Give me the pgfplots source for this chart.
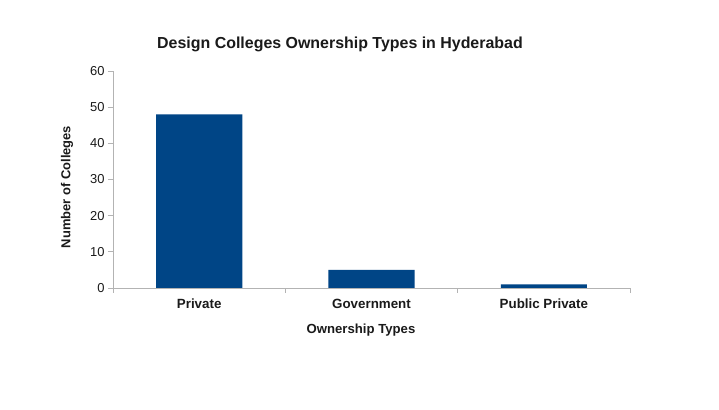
\documentclass[border=0pt]{standalone}
\usepackage{pgfplots}
\pgfplotsset{compat=1.18}
\usepackage{fontspec}
\setmainfont{Liberation Sans}
\definecolor{barblue}{HTML}{004586}
\definecolor{axgrey}{HTML}{B3B3B3}
\definecolor{txt}{HTML}{1A1A1A}
\begin{document}
\begin{tikzpicture}
\useasboundingbox[fill=white] (0,0) rectangle (719bp,410bp);
\begin{axis}[
  at={(113bp,122bp)}, anchor=south west,
  scale only axis, width=517bp, height=217bp,
  xmin=-0.5, xmax=2.5, ymin=0, ymax=60,
  ytick={0,10,20,30,40,50,60},
  xtick={0,1,2},
  xticklabels={Private,Government,Public Private},
  minor xtick={-0.5,0.5,1.5,2.5},
  axis x line*=bottom, axis y line*=left,
  axis line style={axgrey, line width=0.8pt, -},
  tick align=outside,
  major tick length=5bp, minor tick length=5bp,
  x tick style={draw=none},
  minor x tick style={draw=axgrey, line width=0.8pt},
  y tick style={axgrey, line width=0.8pt},
  xticklabel style={font=\fontsize{13.4}{15}\selectfont\bfseries, text=txt, text height=10bp, text depth=3bp, yshift=-2bp},
  yticklabel style={font=\fontsize{13}{15}\selectfont, text=txt},
  /pgf/number format/assume math mode=true,
  ybar, bar width=0.5,
  clip=false,
]
\addplot[fill=barblue, draw=none] coordinates {(0,48) (1,5) (2,1)};
\end{axis}
\node[font=\fontsize{16}{18}\selectfont\bfseries, text=txt] at (340bp,366bp) {Design Colleges Ownership Types in Hyderabad};
\node[font=\fontsize{13}{15}\selectfont\bfseries, text=txt, rotate=90] at (67bp,223bp) {Number of Colleges};
\node[font=\fontsize{13.2}{15}\selectfont\bfseries, text=txt] at (361bp,80bp) {Ownership Types};
\end{tikzpicture}
\end{document}
